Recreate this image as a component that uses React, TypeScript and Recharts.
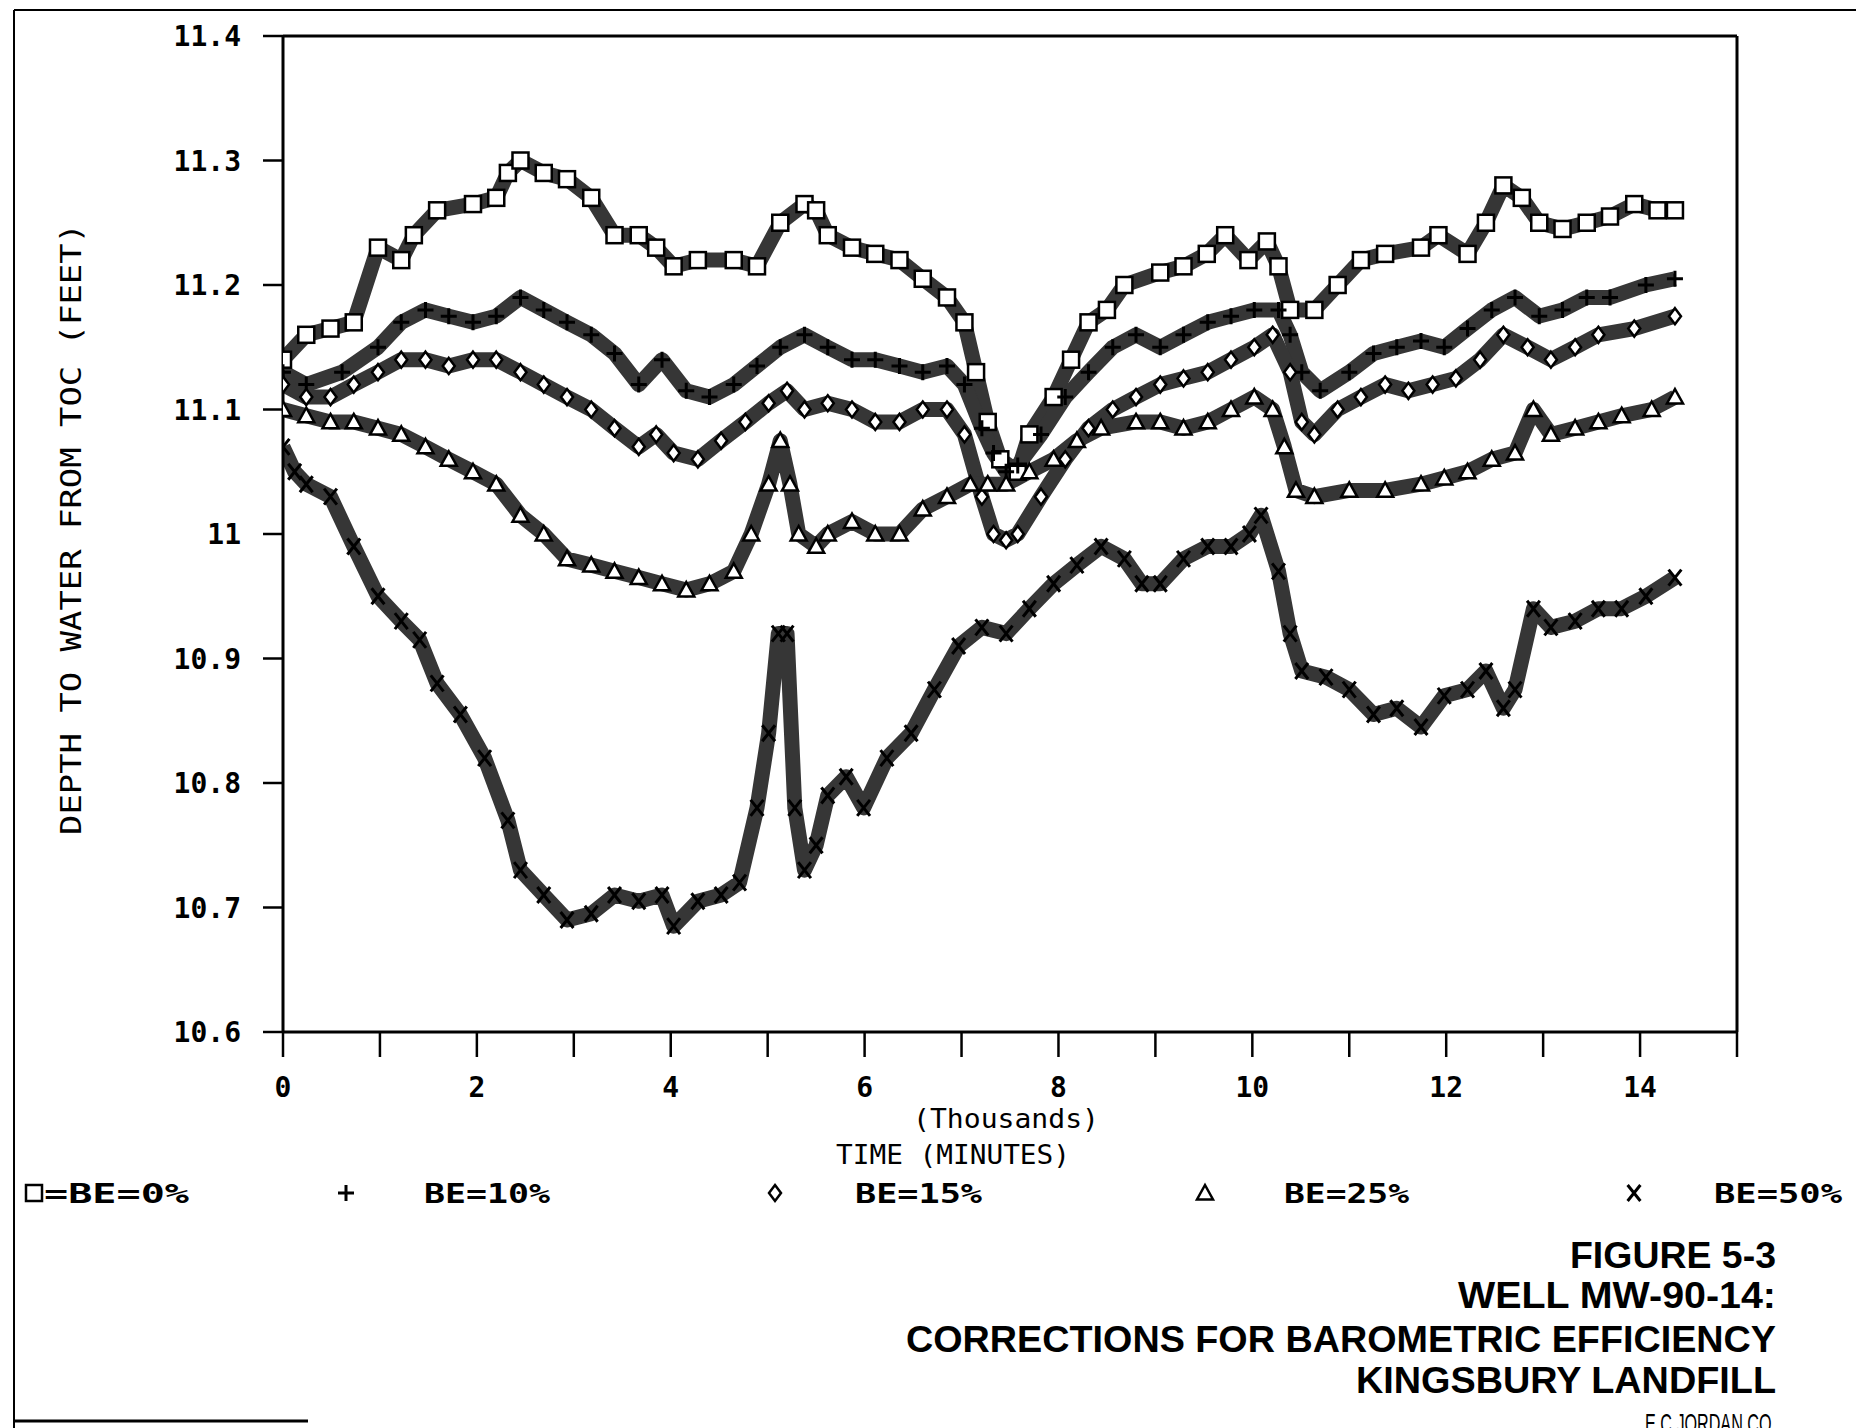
import React from "react";
import { LineChart, Line, XAxis, YAxis, ReferenceLine } from "recharts";

// Depth to water (ft), time in minutes
const TIME_BE0 = [0, 240, 490, 730, 980, 1220, 1350, 1590, 1960, 2200, 2320, 2450, 2690, 2930, 3180, 3420, 3670, 3850, 4030, 4280, 4650, 4890, 5130, 5380, 5500, 5620, 5870, 6110, 6360, 6600, 6850, 7030, 7150, 7270, 7400, 7580, 7700, 7950, 8130, 8310, 8500, 8680, 9050, 9290, 9530, 9720, 9960, 10150, 10270, 10390, 10640, 10880, 11120, 11370, 11740, 11920, 12220, 12410, 12590, 12780, 12960, 13200, 13450, 13690, 13940, 14180, 14360];
const DEPTH_BE0 = [11.14, 11.16, 11.165, 11.17, 11.23, 11.22, 11.24, 11.26, 11.265, 11.27, 11.29, 11.3, 11.29, 11.285, 11.27, 11.24, 11.24, 11.23, 11.215, 11.22, 11.22, 11.215, 11.25, 11.265, 11.26, 11.24, 11.23, 11.225, 11.22, 11.205, 11.19, 11.17, 11.13, 11.09, 11.06, 11.05, 11.08, 11.11, 11.14, 11.17, 11.18, 11.2, 11.21, 11.215, 11.225, 11.24, 11.22, 11.235, 11.215, 11.18, 11.18, 11.2, 11.22, 11.225, 11.23, 11.24, 11.225, 11.25, 11.28, 11.27, 11.25, 11.245, 11.25, 11.255, 11.265, 11.26, 11.26];

const TIME_BE10 = [0, 240, 610, 980, 1220, 1470, 1710, 1960, 2200, 2450, 2690, 2930, 3180, 3420, 3670, 3910, 4160, 4400, 4650, 4890, 5130, 5380, 5620, 5870, 6110, 6360, 6600, 6850, 7030, 7210, 7330, 7460, 7580, 7820, 8070, 8310, 8560, 8800, 9050, 9290, 9540, 9780, 10020, 10270, 10390, 10510, 10700, 11000, 11250, 11490, 11740, 11980, 12220, 12470, 12710, 12960, 13200, 13450, 13690, 14060, 14360];
const DEPTH_BE10 = [11.13, 11.12, 11.13, 11.15, 11.17, 11.18, 11.175, 11.17, 11.175, 11.19, 11.18, 11.17, 11.16, 11.145, 11.12, 11.14, 11.115, 11.11, 11.12, 11.135, 11.15, 11.16, 11.15, 11.14, 11.14, 11.135, 11.13, 11.135, 11.12, 11.085, 11.065, 11.05, 11.055, 11.08, 11.11, 11.13, 11.15, 11.16, 11.15, 11.16, 11.17, 11.175, 11.18, 11.18, 11.16, 11.13, 11.115, 11.13, 11.145, 11.15, 11.155, 11.15, 11.165, 11.18, 11.19, 11.175, 11.18, 11.19, 11.19, 11.2, 11.205];

const TIME_BE15 = [0, 240, 490, 730, 980, 1220, 1470, 1710, 1960, 2200, 2450, 2690, 2930, 3180, 3420, 3670, 3850, 4030, 4280, 4520, 4770, 5010, 5200, 5380, 5620, 5870, 6110, 6360, 6600, 6850, 7030, 7210, 7330, 7460, 7580, 7820, 8070, 8310, 8560, 8800, 9050, 9290, 9540, 9780, 10020, 10210, 10390, 10510, 10640, 10880, 11120, 11370, 11610, 11860, 12100, 12350, 12590, 12840, 13080, 13330, 13570, 13940, 14360];
const DEPTH_BE15 = [11.12, 11.11, 11.11, 11.12, 11.13, 11.14, 11.14, 11.135, 11.14, 11.14, 11.13, 11.12, 11.11, 11.1, 11.085, 11.07, 11.08, 11.065, 11.06, 11.075, 11.09, 11.105, 11.115, 11.1, 11.105, 11.1, 11.09, 11.09, 11.1, 11.1, 11.08, 11.03, 11.0, 10.995, 11.0, 11.03, 11.06, 11.085, 11.1, 11.11, 11.12, 11.125, 11.13, 11.14, 11.15, 11.16, 11.13, 11.09, 11.08, 11.1, 11.11, 11.12, 11.115, 11.12, 11.125, 11.14, 11.16, 11.15, 11.14, 11.15, 11.16, 11.165, 11.175];

const TIME_BE25 = [0, 240, 490, 730, 980, 1220, 1470, 1710, 1960, 2200, 2450, 2690, 2930, 3180, 3420, 3670, 3910, 4160, 4400, 4650, 4830, 5010, 5130, 5230, 5320, 5500, 5620, 5870, 6110, 6360, 6600, 6850, 7090, 7270, 7460, 7700, 7950, 8190, 8440, 8800, 9050, 9290, 9540, 9780, 10020, 10210, 10330, 10450, 10640, 11000, 11370, 11740, 11980, 12220, 12470, 12710, 12900, 13080, 13330, 13570, 13810, 14120, 14360];
const DEPTH_BE25 = [11.1, 11.095, 11.09, 11.09, 11.085, 11.08, 11.07, 11.06, 11.05, 11.04, 11.015, 11.0, 10.98, 10.975, 10.97, 10.965, 10.96, 10.955, 10.96, 10.97, 11.0, 11.04, 11.075, 11.04, 11.0, 10.99, 11.0, 11.01, 11.0, 11.0, 11.02, 11.03, 11.04, 11.04, 11.04, 11.05, 11.06, 11.075, 11.085, 11.09, 11.09, 11.085, 11.09, 11.1, 11.11, 11.1, 11.07, 11.035, 11.03, 11.035, 11.035, 11.04, 11.045, 11.05, 11.06, 11.065, 11.1, 11.08, 11.085, 11.09, 11.095, 11.1, 11.11];

const TIME_BE50 = [0, 120, 240, 490, 730, 980, 1220, 1410, 1590, 1830, 2080, 2320, 2450, 2690, 2930, 3180, 3420, 3670, 3910, 4030, 4280, 4520, 4710, 4890, 5010, 5110, 5200, 5280, 5380, 5500, 5620, 5810, 5990, 6230, 6480, 6720, 6970, 7210, 7460, 7700, 7950, 8190, 8440, 8680, 8860, 9050, 9290, 9540, 9780, 9970, 10090, 10270, 10390, 10510, 10760, 11000, 11250, 11490, 11740, 11980, 12220, 12410, 12590, 12710, 12900, 13080, 13330, 13570, 13810, 14060, 14360];
const DEPTH_BE50 = [11.07, 11.05, 11.04, 11.03, 10.99, 10.95, 10.93, 10.915, 10.88, 10.855, 10.82, 10.77, 10.73, 10.71, 10.69, 10.695, 10.71, 10.705, 10.71, 10.685, 10.705, 10.71, 10.72, 10.78, 10.84, 10.92, 10.92, 10.78, 10.73, 10.75, 10.79, 10.805, 10.78, 10.82, 10.84, 10.875, 10.91, 10.925, 10.92, 10.94, 10.96, 10.975, 10.99, 10.98, 10.96, 10.96, 10.98, 10.99, 10.99, 11.0, 11.015, 10.97, 10.92, 10.89, 10.885, 10.875, 10.855, 10.86, 10.845, 10.87, 10.875, 10.89, 10.86, 10.875, 10.94, 10.925, 10.93, 10.94, 10.94, 10.95, 10.965];

const TIME_TICKS = [0, 1000, 2000, 3000, 4000, 5000, 6000, 7000, 8000, 9000, 10000, 11000, 12000, 13000, 14000, 15000];
const DEPTH_TICKS = [10.6, 10.7, 10.8, 10.9, 11, 11.1, 11.2, 11.3, 11.4];

const TITLE_LINES = [
  "FIGURE 5-3",
  "WELL MW-90-14:",
  "CORRECTIONS FOR BAROMETRIC EFFICIENCY",
  "KINGSBURY LANDFILL",
];

type Shape = "square" | "plus" | "diamond" | "triangle" | "cross";

const SERIES: { name: string; shape: Shape; t: number[]; v: number[] }[] = [
  { name: "BE=0%", shape: "square", t: TIME_BE0, v: DEPTH_BE0 },
  { name: "BE=10%", shape: "plus", t: TIME_BE10, v: DEPTH_BE10 },
  { name: "BE=15%", shape: "diamond", t: TIME_BE15, v: DEPTH_BE15 },
  { name: "BE=25%", shape: "triangle", t: TIME_BE25, v: DEPTH_BE25 },
  { name: "BE=50%", shape: "cross", t: TIME_BE50, v: DEPTH_BE50 },
];

const W = 1856;
const H = 1428;
const MONO = "'DejaVu Sans Mono', 'Liberation Mono', monospace";
const SANS = "'Liberation Sans', Arial, Helvetica, sans-serif";

function toPoints(t: number[], v: number[]) {
  const n = Math.min(t.length, v.length);
  const out: { t: number; v: number }[] = [];
  for (let i = 0; i < n; i++) out.push({ t: t[i], v: v[i] });
  return out;
}

function Marker({ shape, cx, cy, size = 16 }: { shape: Shape; cx: number; cy: number; size?: number }) {
  const h = size / 2;
  if (shape === "square")
    return <rect x={cx - h} y={cy - h} width={size} height={size} fill="#fff" stroke="#000" strokeWidth={2.5} />;
  if (shape === "plus")
    return <path d={`M${cx - h},${cy}H${cx + h}M${cx},${cy - h}V${cy + h}`} stroke="#000" strokeWidth={3} />;
  if (shape === "diamond")
    return (
      <polygon
        points={`${cx},${cy - h} ${cx + h * 0.75},${cy} ${cx},${cy + h} ${cx - h * 0.75},${cy}`}
        fill="#fff"
        stroke="#000"
        strokeWidth={2.5}
      />
    );
  if (shape === "triangle")
    return (
      <polygon
        points={`${cx},${cy - h} ${cx + h},${cy + h * 0.8} ${cx - h},${cy + h * 0.8}`}
        fill="#fff"
        stroke="#000"
        strokeWidth={2.5}
      />
    );
  return (
    <path
      d={`M${cx - h * 0.8},${cy - h}L${cx + h * 0.8},${cy + h}M${cx + h * 0.8},${cy - h}L${cx - h * 0.8},${cy + h}`}
      stroke="#000"
      strokeWidth={3}
    />
  );
}

function YTick(props: any) {
  const { x, y, payload } = props;
  return (
    <text x={x} y={y} dy={10} textAnchor="end" fontFamily={MONO} fontWeight="bold" fontSize={28} fill="#000">
      {Number(payload.value.toFixed(1)).toString()}
    </text>
  );
}

function XTick(props: any) {
  const { x, y, payload } = props;
  const v = payload.value as number;
  const label = v % 2000 === 0 && v < 15000 ? String(v / 1000) : "";
  return (
    <text x={x} y={y} dy={20} textAnchor="middle" fontFamily={MONO} fontWeight="bold" fontSize={28} fill="#000">
      {label}
    </text>
  );
}

// legend layout: marker centre, label start, label width
const LEGEND_LAYOUT = [
  { mx: 34, lx: 44, lw: 145, label: "=BE=0%" },
  { mx: 346, lx: 424, lw: 126 },
  { mx: 775, lx: 855, lw: 127 },
  { mx: 1205, lx: 1284, lw: 125 },
  { mx: 1634, lx: 1714, lw: 128 },
];

const TITLE_LAYOUT = [
  { y: 1268, w: 206 },
  { y: 1308, w: 318 },
  { y: 1352, w: 870 },
  { y: 1393, w: 420 },
];

export default function App() {
  return (
    <div style={{ position: "absolute", left: 0, top: 0, width: W, height: H, overflow: "hidden", background: "#fff" }}>
      <div style={{ position: "absolute", left: 0, top: 0 }}>
        <LineChart width={W} height={1140} margin={{ top: 36, right: 119, bottom: 50, left: 0 }}>
          <XAxis
            type="number"
            dataKey="t"
            domain={[0, 15000]}
            ticks={TIME_TICKS}
            allowDataOverflow
            height={58}
            tickSize={25}
            tickMargin={20}
            axisLine={{ stroke: "#000", strokeWidth: 3 }}
            tickLine={{ stroke: "#000", strokeWidth: 2.5 }}
            tick={<XTick />}
          />
          <YAxis
            type="number"
            domain={[10.6, 11.4]}
            ticks={DEPTH_TICKS}
            allowDataOverflow
            width={283}
            tickSize={20}
            tickMargin={22}
            axisLine={{ stroke: "#000", strokeWidth: 3 }}
            tickLine={{ stroke: "#000", strokeWidth: 2.5 }}
            tick={<YTick />}
          />
          <ReferenceLine y={11.4} stroke="#000" strokeWidth={3} />
          <ReferenceLine x={15000} stroke="#000" strokeWidth={3} />
          {SERIES.map((s) => (
            <Line
              key={s.name}
              name={s.name}
              data={toPoints(s.t, s.v)}
              dataKey="v"
              type="linear"
              stroke="#363636"
              strokeWidth={15}
              strokeLinejoin="round"
              isAnimationActive={false}
              activeDot={false}
              dot={(p: any) =>
                p.cx == null || p.cy == null ? (
                  <g key={`${s.name}-${p.index}`} />
                ) : (
                  <g key={`${s.name}-${p.index}`}>
                    <Marker shape={s.shape} cx={p.cx} cy={p.cy} />
                  </g>
                )
              }
            />
          ))}
        </LineChart>
      </div>
      <svg width={W} height={H} style={{ position: "absolute", left: 0, top: 0 }}>
        {/* page frame */}
        <line x1={14} y1={10} x2={W} y2={10} stroke="#000" strokeWidth={2} />
        <line x1={14} y1={10} x2={14} y2={H} stroke="#000" strokeWidth={2} />
        <line x1={14} y1={1421} x2={308} y2={1421} stroke="#000" strokeWidth={3} />

        <text
          transform="translate(71,529) rotate(-90)"
          textAnchor="middle"
          dy={10}
          fontFamily={MONO}
          fontSize={28}
          textLength={612}
          lengthAdjust="spacingAndGlyphs"
        >
          DEPTH TO WATER FROM TOC (FEET)
        </text>

        <text x={1006} y={1128} textAnchor="middle" fontFamily={MONO} fontSize={26} textLength={186} lengthAdjust="spacingAndGlyphs">
          (Thousands)
        </text>
        <text x={953} y={1164} textAnchor="middle" fontFamily={MONO} fontSize={26} textLength={234} lengthAdjust="spacingAndGlyphs">
          TIME (MINUTES)
        </text>

        {SERIES.map((s, i) => {
          const L = LEGEND_LAYOUT[i];
          return (
            <g key={s.name}>
              <Marker shape={s.shape} cx={L.mx} cy={1193} size={16} />
              <text
                x={L.lx}
                y={1203}
                fontFamily={MONO}
                fontWeight="bold"
                fontSize={26}
                textLength={L.lw}
                lengthAdjust="spacingAndGlyphs"
              >
                {L.label ?? s.name}
              </text>
            </g>
          );
        })}

        {TITLE_LINES.map((line, i) => (
          <text
            key={line}
            x={1776}
            y={TITLE_LAYOUT[i].y}
            textAnchor="end"
            fontFamily={SANS}
            fontWeight="bold"
            fontSize={37}
            textLength={TITLE_LAYOUT[i].w}
            lengthAdjust="spacingAndGlyphs"
          >
            {line}
          </text>
        ))}
        <text x={1776} y={1433} textAnchor="end" fontFamily={SANS} fontSize={28} textLength={131} lengthAdjust="spacingAndGlyphs">
          E.C.JORDAN CO.
        </text>
      </svg>
    </div>
  );
}
